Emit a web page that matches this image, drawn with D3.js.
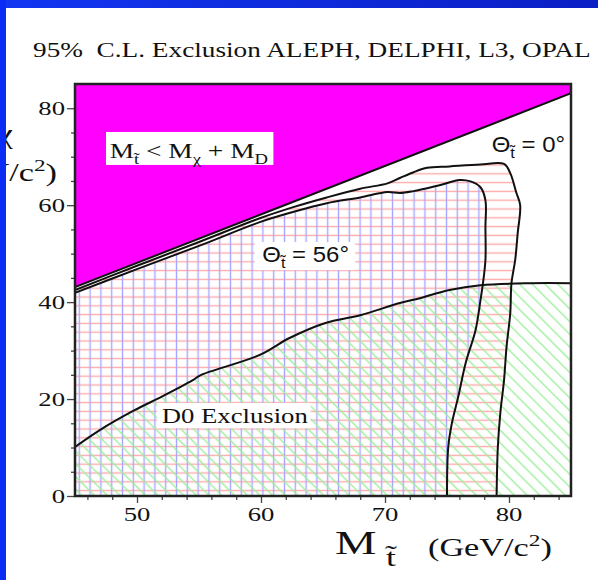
<!DOCTYPE html>
<html>
<head>
<meta charset="UTF-8">
<script src="https://d3js.org/d3.v7.min.js"></script>
<style>
  body { margin: 0; background: #fff; }
  text { white-space: pre; }
</style>
</head>
<body>
<svg id="chart" width="598" height="580"></svg>
<script>
// --- data (M_stop, M_chi in GeV/c^2) ---
const xTicks = [50, 60, 70, 80];
const xMinor = [46, 48, 52, 54, 56, 58, 62, 64, 66, 68, 72, 74, 76, 78, 82, 84];
const yTicks = [0, 20, 40, 60, 80];
const yMinor = [5, 10, 15, 25, 30, 35, 45, 50, 55, 65, 70, 75];

// kinematic limit M_t = M_chi + M_D
const kinLimit = [[45, 43.1], [85, 83.1]];

// theta = 0 deg exclusion contour
const theta0 = [[45, 42.5], [50, 47.5], [55, 52.4], [59.9, 57.3], [62.6, 59.6], [65.3, 61.6],
  [68, 63.4], [70.2, 64.5], [71.2, 65.6], [72.3, 66.8], [73.4, 67.7], [75.2, 68.0], [77.7, 68.4],
  [79.6, 68.5], [80.1, 66.6], [80.6, 62.5], [80.9, 60], [80.7, 54.2], [80.5, 48.7], [80.2, 43.9],
  [80.1, 37.7], [79.8, 30.7], [79.6, 23.9], [79.3, 17.1], [79.1, 10.1], [79, 0]];

// theta = 56 deg exclusion contour
const theta56 = [[45, 41.9], [50, 46.8], [55, 51.6], [59.9, 56.5], [62.6, 58.6], [65.3, 60.4],
  [68, 61.6], [70.2, 62.7], [71.2, 62.5], [72.3, 62.9], [73.4, 63.5], [74.4, 64.1], [76, 65.2],
  [76.9, 64.9], [77.7, 63.7], [78.1, 61], [78.1, 55.5], [78.1, 48.7], [77.9, 43.9], [77.7, 40.4],
  [77.3, 34.2], [76.5, 27.4], [75.9, 20.4], [75.4, 15.1], [75.1, 10.1], [75, 0]];

// D0 exclusion curve
const d0 = [[45, 10.1], [47, 13.6], [49.8, 17.7], [52, 20.5], [54.5, 23.9], [55.1, 24.9],
  [59.9, 29.1], [62.3, 32.6], [65.2, 35.7], [68, 37.3], [71.2, 39.8], [72.8, 40.8], [75.2, 42.5],
  [77.7, 43.5], [81.7, 43.9], [85, 43.9]];

const svg = d3.select("#chart");
const SERIF = "'Liberation Serif', 'Times New Roman', serif";
const SANS = "'Liberation Sans', Arial, sans-serif";
const SX = 1.37; // the slide is stretched sideways

const x = d3.scaleLinear().domain([45, 85]).range([75, 571]);
const y = d3.scaleLinear().domain([0, 85]).range([496, 84]);

// blue slide border
const defs = svg.append("defs");
const grad = defs.append("linearGradient").attr("id", "topGrad");
grad.append("stop").attr("offset", "0%").attr("stop-color", "#1236f2");
grad.append("stop").attr("offset", "100%").attr("stop-color", "#0a1fc4");
svg.append("rect").attr("x", 0).attr("y", 0).attr("width", 598).attr("height", 8).attr("fill", "url(#topGrad)");

// hatch patterns
function hatch(id, w, h, px, py, x1, y1, x2, y2, color, rot) {
  const p = defs.append("pattern").attr("id", id)
    .attr("patternUnits", "userSpaceOnUse")
    .attr("x", px).attr("y", py).attr("width", w).attr("height", h);
  if (rot) p.attr("patternTransform", `rotate(${rot})`);
  p.append("line").attr("x1", x1).attr("y1", y1).attr("x2", x2).attr("y2", y2)
    .attr("stroke", color).attr("stroke-width", 1.4);
}
hatch("redH", 10, 8.8, 0, 385 - 4.4, 0, 4.4, 10, 4.4, "#ffaaaa");
hatch("blueV", 10.8, 10, 79.3 - 5.4, 0, 5.4, 0, 5.4, 10, "#a6a6ff");
hatch("greenD", 9, 9, 0, 0, 0, 4.5, 9, 4.5, "#9eee9e", 45);

defs.append("clipPath").attr("id", "plotClip").append("rect")
  .attr("x", x(45)).attr("y", y(85)).attr("width", x(85) - x(45)).attr("height", y(0) - y(85));

const plot = svg.append("g").attr("clip-path", "url(#plotClip)");
const curve = d3.line().x(d => x(d[0])).y(d => y(d[1])).curve(d3.curveCatmullRom.alpha(0.5));

plot.append("path").attr("d", curve(theta0) + `L${x(45)},${y(0)}Z`).attr("fill", "url(#redH)");
plot.append("path").attr("d", curve(theta56) + `L${x(45)},${y(0)}Z`).attr("fill", "url(#blueV)");
plot.append("path").attr("d", curve(d0) + `L${x(85)},${y(0)}L${x(45)},${y(0)}Z`).attr("fill", "url(#greenD)");
plot.append("path").attr("d", curve(kinLimit) + `L${x(85)},${y(85)}L${x(45)},${y(85)}Z`).attr("fill", "#ff00ff");

// white label boxes
const boxes = [[47.5, 75.1, 61.0, 68.3], [59.5, 52.4, 67.6, 46.6], [51.6, 19.2, 64.0, 14.0]];
plot.selectAll("rect.box").data(boxes).enter().append("rect")
  .attr("x", d => x(d[0])).attr("y", d => y(d[1]))
  .attr("width", d => x(d[2]) - x(d[0])).attr("height", d => y(d[3]) - y(d[1]))
  .attr("fill", "#fff");

[kinLimit, theta0, theta56, d0].forEach(c => {
  plot.append("path").attr("d", curve(c)).attr("fill", "none")
    .attr("stroke", "#111").attr("stroke-width", 2);
});

// stretched text helper: parts = [[text, "sub"|"sup"|null], ...]
function stext(px, py, size, family, parts, anchor, sx) {
  const t = svg.append("text")
    .attr("transform", `translate(${px},${py}) scale(${sx || SX},1)`)
    .attr("font-size", size).attr("font-family", family)
    .attr("text-anchor", anchor || "start").attr("fill", "#111");
  let shift = 0;
  parts.forEach(([s, kind]) => {
    const target = kind === "sub" ? size * 0.3 : kind === "sup" ? -size * 0.4 : 0;
    t.append("tspan").attr("dy", target - shift)
      .attr("font-size", kind ? size * 0.68 : size).text(s);
    shift = target;
  });
  return t;
}

// in-plot annotations
stext(x(47.8), y(69.7), 20, SERIF, [["M"], ["t\u0303", "sub"], [" < M"], ["\u03c7", "sub"], [" + M"], ["D", "sub"]]);
stext(x(60.1), y(48.3), 22, SANS, [["\u0398"], ["t\u0303", "sub"], [" = 56\u00b0"]], "start", 1.09);
stext(x(78.6), y(71.0), 22, SANS, [["\u0398"], ["t\u0303", "sub"], [" = 0\u00b0"]], "start", 1.09);
stext(x(52.0), y(15.1), 21, SERIF, [["D0 Exclusion"]], "start", 1.27);

// frame and axes
const axisG = svg.append("g");
axisG.append("g").attr("transform", `translate(${x(45)},0)`)
  .call(d3.axisLeft(y).tickValues(yTicks).tickSize(8).tickFormat(""));
axisG.append("g").attr("transform", `translate(${x(45)},0)`)
  .call(d3.axisLeft(y).tickValues(yMinor).tickSize(4).tickFormat(""));
axisG.append("g").attr("transform", `translate(0,${y(0)})`)
  .call(d3.axisBottom(x).tickValues(xTicks).tickSize(7).tickFormat(""));
axisG.append("g").attr("transform", `translate(0,${y(0)})`)
  .call(d3.axisBottom(x).tickValues(xMinor).tickSize(4).tickFormat(""));
axisG.selectAll(".domain").remove();
axisG.selectAll("line").attr("stroke", "#444").attr("stroke-width", 1.3);

svg.append("rect").attr("x", x(45)).attr("y", y(85))
  .attr("width", x(85) - x(45)).attr("height", y(0) - y(85))
  .attr("fill", "none").attr("stroke", "#222").attr("stroke-width", 2.5);

yTicks.forEach(v => stext(x(45) - 10, y(v) + 7, 19.5, SERIF, [[String(v)]], "end"));
xTicks.forEach(v => stext(x(v), y(0) + 25, 19.5, SERIF, [[String(v)]], "middle"));

// titles
stext(33, 57, 19.9, SERIF, [["95%  C.L. Exclusion ALEPH, DELPHI, L3, OPAL"]]);
stext(335, 554, 34, SERIF, [["M"]]);
stext(386, 566, 26, SERIF, [["t\u0303"]]);
stext(428, 556, 25, SERIF, [["(GeV/c"], ["2", "sup"], [")"]]);
stext(-3, 138, 34, SERIF, [["M"]], "end");
stext(13, 143, 27, SERIF, [["\u03c7"]], "end");
stext(57, 181, 25, SERIF, [["(GeV/c"], ["2", "sup"], [")"]], "end");

// left border on top of the clipped y label
svg.append("rect").attr("x", 0).attr("y", 0).attr("width", 6).attr("height", 580).attr("fill", "#0a2cf5");
</script>
</body>
</html>
